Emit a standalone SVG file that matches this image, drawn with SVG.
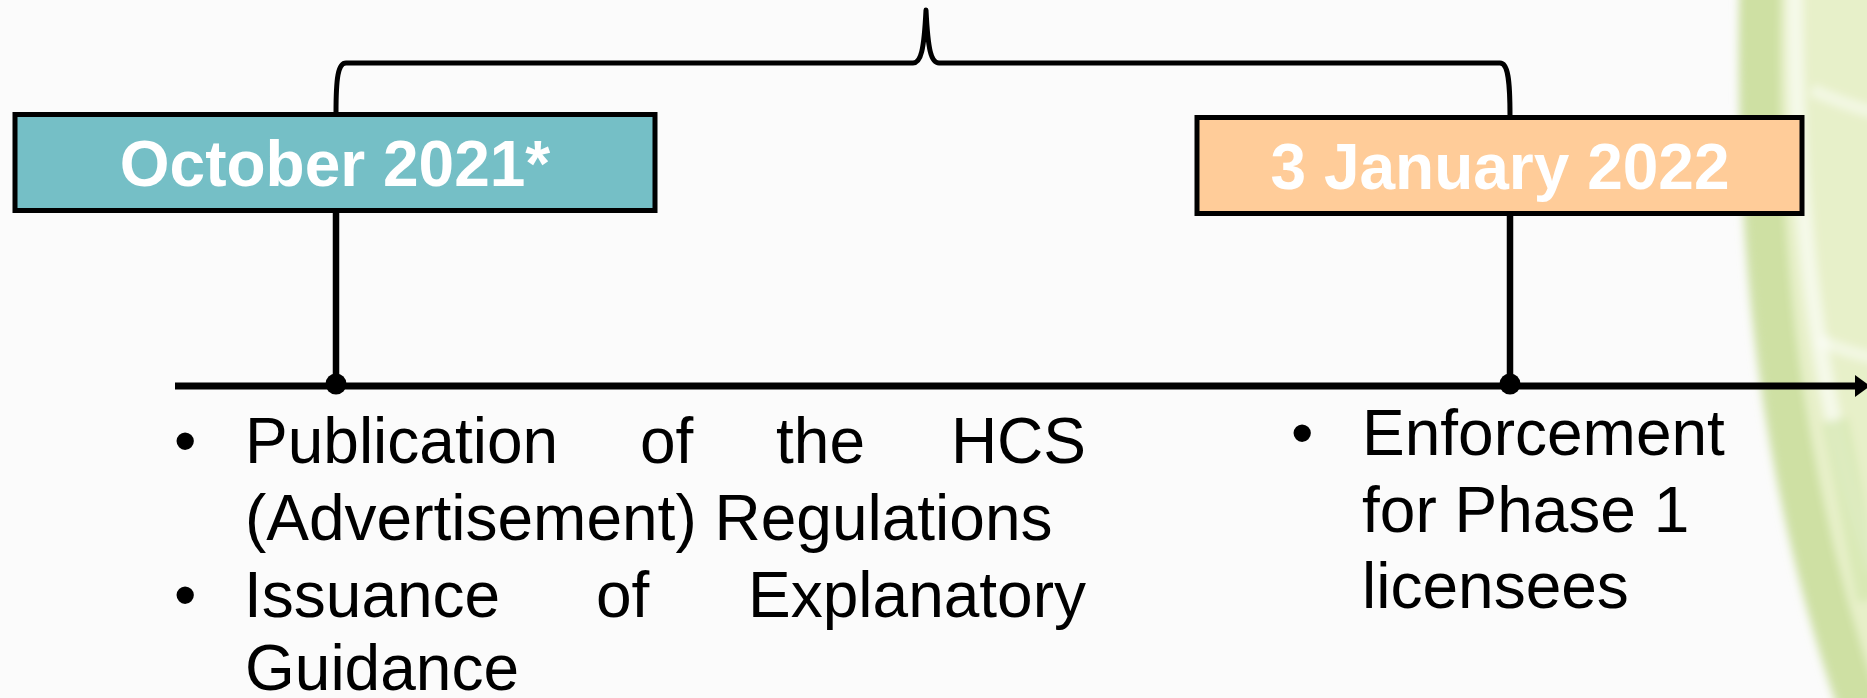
<svg xmlns="http://www.w3.org/2000/svg" width="1867" height="698" viewBox="0 0 1867 698">
  <style>
    .box1 { fill: #75BFC6; stroke: #000; stroke-width: 5; }
    .box2 { fill: #FFCC99; stroke: #000; stroke-width: 5; }
    .title { font-family: "Liberation Sans", Arial, sans-serif; font-weight: bold; font-size: 64px; fill: #FFFFFF; text-anchor: middle; }
    .body { font-family: "Liberation Sans", Arial, sans-serif; font-size: 64px; fill: #000000; }
    .line { fill: none; stroke: #000; stroke-linecap: butt; stroke-linejoin: round; }
  </style>
  <defs>
    <marker id="arrow" markerUnits="userSpaceOnUse" markerWidth="16" markerHeight="24" refX="0" refY="12" orient="auto">
      <path d="M0,1 L15,12 L0,23 z" fill="#000"/>
    </marker>
    <filter id="soft" x="-20%" y="-20%" width="140%" height="140%">
      <feGaussianBlur stdDeviation="4"/>
    </filter>
  </defs>

  <rect width="1867" height="698" fill="#FBFBFB"/>

  <!-- background decoration -->
  <g id="decoration" filter="url(#soft)">
    <path d="M1741,-10 L1880,-10 L1880,710 L1845,710 C1790,560 1750,380 1741,-10 z" fill="#E7F0C9"/>
    <path d="M1760,-10 C1755,250 1780,480 1860,710" fill="none" stroke="#C9DD9C" stroke-width="42" opacity="0.85"/>
    <path d="M1795,-10 C1795,200 1815,400 1875,570" fill="none" stroke="#FFFFFF" stroke-width="16" opacity="0.6"/>
    <path d="M1812,90 C1835,100 1855,108 1875,112" fill="none" stroke="#FFFFFF" stroke-width="12" opacity="0.5"/>
    <path d="M1820,340 C1840,350 1860,355 1875,358" fill="none" stroke="#FFFFFF" stroke-width="12" opacity="0.5"/>
    <path d="M1835,420 C1848,480 1858,540 1870,600" fill="none" stroke="#D3E5AD" stroke-width="26" opacity="0.7"/>
  </g>

  <!-- connectors -->
  <g id="connectors">
    <path class="line" stroke-width="5" d="M336,113 C336,78 338,63 346,63 L913,63 C921,63 924,50 926,10 C928,50 931,63 939,63 L1500,63 C1508,63 1510,80 1510,116"/>
    <line class="line" stroke-width="6.5" x1="336" y1="212" x2="336" y2="385"/>
    <line class="line" stroke-width="6.5" x1="1510" y1="215" x2="1510" y2="385"/>
    <line class="line" stroke-width="7" x1="175" y1="386" x2="1855" y2="386" marker-end="url(#arrow)"/>
    <circle cx="336" cy="384" r="10.5" fill="#000"/>
    <circle cx="1510" cy="384" r="10.5" fill="#000"/>
  </g>

  <g id="node-oct2021">
    <rect class="box1" x="15" y="114.5" width="640" height="96"/>
    <text class="title" x="335" y="186">October 2021*</text>
  </g>

  <g id="node-jan2022">
    <rect class="box2" x="1197" y="117.5" width="605" height="96"/>
    <text class="title" x="1500" y="189">3 January 2022</text>
  </g>

  <g id="text-oct2021">
    <text class="body" x="174" y="463">•</text>
    <text class="body" x="245" y="463">Publication</text>
    <text class="body" x="640" y="463">of</text>
    <text class="body" x="776" y="463">the</text>
    <text class="body" x="1086" y="463" text-anchor="end">HCS</text>
    <text class="body" x="245" y="540">(Advertisement) Regulations</text>
    <text class="body" x="174" y="617">•</text>
    <text class="body" x="244" y="617">Issuance</text>
    <text class="body" x="596" y="617">of</text>
    <text class="body" x="1086" y="617" text-anchor="end">Explanatory</text>
    <text class="body" x="245" y="690">Guidance</text>
  </g>

  <g id="text-jan2022">
    <text class="body" x="1291" y="455">•</text>
    <text class="body" x="1362" y="455">Enforcement</text>
    <text class="body" x="1362" y="532">for Phase 1</text>
    <text class="body" x="1362" y="608">licensees</text>
  </g>
</svg>
